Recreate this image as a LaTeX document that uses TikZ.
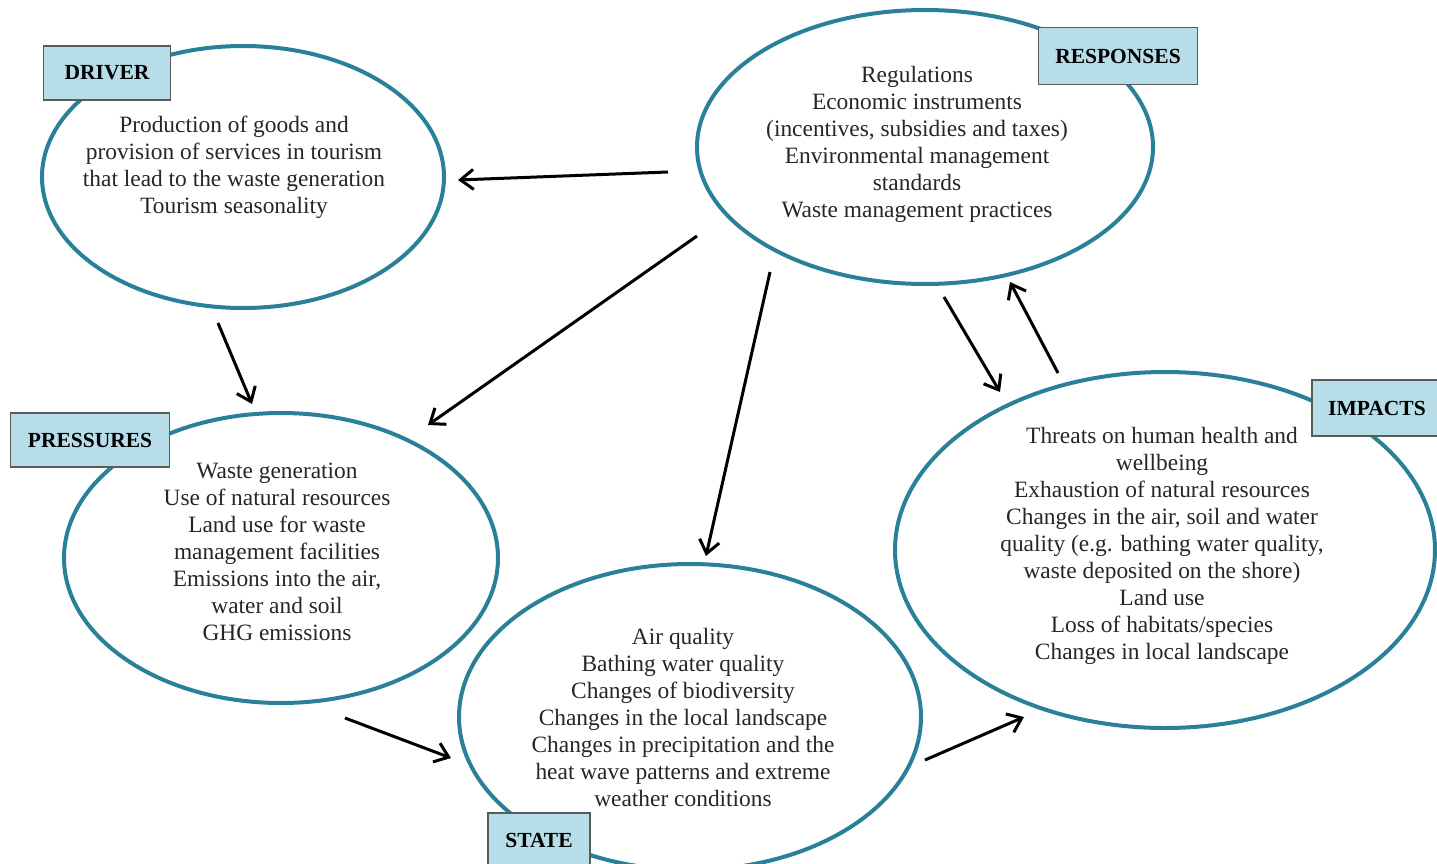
\documentclass[tikz,border=0pt]{standalone}
\usepackage{fontspec}
\setmainfont{Liberation Serif}
\usetikzlibrary{arrows.meta}
\usetikzlibrary{shapes.geometric}
\definecolor{ringteal}{RGB}{42,128,152}
\definecolor{tagblue}{RGB}{183,222,232}
\definecolor{tagline}{RGB}{90,90,90}
\tikzset{
  ring/.style={ellipse,draw=ringteal,line width=4pt,inner sep=0pt},
  tag/.style={rectangle,draw=tagline,fill=tagblue,line width=1.5pt,minimum width=127pt,minimum height=54pt,font=\fontsize{21.5}{24}\selectfont\bfseries},
  txt/.style={align=center,text=black!85,font=\fontsize{23.4}{27}\selectfont},
  link/.style={line width=3pt,-{Straight Barb[length=13pt,width=20pt,line width=3pt]}}
}
\begin{document}
\begin{tikzpicture}[x=1pt,y=-1pt]
	\useasboundingbox (0,0) rectangle (1437,864);
	\clip (0,0) rectangle (1437,864);

	% rings
	\node[ring,minimum width=402pt,minimum height=262pt] (driver) at (243,177) {};
	\node[ring,minimum width=456pt,minimum height=274pt] (responses) at (925,147) {};
	\node[ring,minimum width=434pt,minimum height=290pt] (pressures) at (281,558) {};
	\node[ring,minimum width=462pt,minimum height=306pt] (state) at (690,717) {};
	\node[ring,minimum width=540pt,minimum height=356pt] (impacts) at (1165,550) {};

	% texts
	\node[txt] (drivertxt) at (234,167) {Production of goods and\\provision of services in tourism\\that lead to the waste generation\\Tourism seasonality};
	\node[txt] (responsestxt) at (917,144) {Regulations\\Economic instruments\\(incentives, subsidies and taxes)\\Environmental management\\standards\\Waste management practices};
	\node[txt] (pressurestxt) at (277,552) {Waste generation\\Use of natural resources\\Land use for waste\\management facilities\\Emissions into the air,\\water and soil\\GHG emissions};
	\node[txt] (statetxt) at (683,717) {Air quality\\Bathing water quality\\Changes of biodiversity\\Changes in the local landscape\\Changes in precipitation and the\\heat wave patterns and extreme\\weather conditions};
	\node[txt] (impactstxt) at (1162,546) {Threats on human health and\\wellbeing\\Exhaustion of natural resources\\Changes in the air, soil and water\\quality (e.g. bathing water quality,\\waste deposited on the shore)\\Land use\\Loss of habitats/species\\Changes in local landscape};

	% tags
	\node[tag,minimum width=127pt] (drivertag) at (107,73) {DRIVER};
	\node[tag,minimum width=159pt,minimum height=57pt] (responsestag) at (1118,56) {RESPONSES};
	\node[tag,minimum width=159pt] (pressurestag) at (90,440) {PRESSURES};
	\node[tag,minimum width=102pt] (statetag) at (539,840) {STATE};
	\node[tag,minimum width=130pt,minimum height=56pt] (impactstag) at (1377,408) {IMPACTS};

	% arrow ends
	\coordinate (r1) at (668,172);
	\coordinate (d1) at (458,180);
	\coordinate (r2) at (697,236);
	\coordinate (p1) at (428,425);
	\coordinate (r3) at (770,272);
	\coordinate (s1) at (706,556);
	\coordinate (r4) at (944,297);
	\coordinate (i1) at (1000,392);
	\coordinate (i2) at (1058,373);
	\coordinate (r5) at (1010,282);
	\coordinate (d2) at (218,323);
	\coordinate (p2) at (252,404);
	\coordinate (p3) at (345,718);
	\coordinate (s2) at (451,758);
	\coordinate (s3) at (925,760);
	\coordinate (i3) at (1024,717);

	\draw[link] (r1) -- (d1);
	\draw[link] (r2) -- (p1);
	\draw[link] (r3) -- (s1);
	\draw[link] (r4) -- (i1);
	\draw[link] (i2) -- (r5);
	\draw[link] (d2) -- (p2);
	\draw[link] (p3) -- (s2);
	\draw[link] (s3) -- (i3);
\end{tikzpicture}
\end{document}
